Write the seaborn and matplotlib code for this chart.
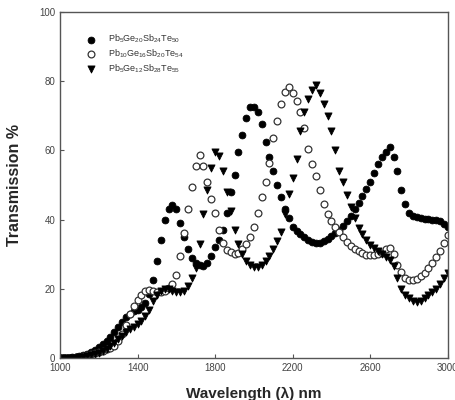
import numpy as np
import pandas as pd
import matplotlib
matplotlib.use('Agg')
import matplotlib.pyplot as plt
import seaborn as sns

# Wavelength grid (nm)
wavelength = [1000, 1020, 1040, 1060, 1080, 1100, 1120, 1140, 1160, 1180,
              1200, 1220, 1240, 1260, 1280, 1300, 1320, 1340, 1360, 1380,
              1400, 1420, 1440, 1460, 1480, 1500, 1520, 1540, 1560, 1580,
              1600, 1620, 1640, 1660, 1680, 1700, 1720, 1740, 1760, 1780,
              1800, 1820, 1840, 1860, 1880, 1900, 1920, 1940, 1960, 1980,
              2000, 2020, 2040, 2060, 2080, 2100, 2120, 2140, 2160, 2180,
              2200, 2220, 2240, 2260, 2280, 2300, 2320, 2340, 2360, 2380,
              2400, 2420, 2440, 2460, 2480, 2500, 2520, 2540, 2560, 2580,
              2600, 2620, 2640, 2660, 2680, 2700, 2720, 2740, 2760, 2780,
              2800, 2820, 2840, 2860, 2880, 2900, 2920, 2940, 2960, 2980,
              3000]

# Transmission % of each film
trans_a = [0, 0, 0.1, 0.2, 0.4, 0.6, 0.9, 1.3, 1.8, 2.4,
           3.1, 4.0, 5.0, 6.2, 7.5, 9.0, 10.5, 11.8, 12.8, 13.5,
           14.0, 14.8, 16.0, 18.5, 22.5, 28.0, 34.0, 40.0, 43.0, 44.2,
           43.0, 39.0, 35.0, 31.5, 29.0, 27.5, 26.8, 26.5, 27.5, 29.5,
           32.0, 34.0, 37.0, 42.0, 48.0, 53.0, 59.5, 64.5, 69.5, 72.5,
           72.5, 71.0, 67.5, 62.5, 58.0, 54.0, 50.0, 46.5, 43.0, 40.5,
           38.0, 36.8, 35.8, 35.0, 34.2, 33.5, 33.2, 33.3, 33.8, 34.5,
           35.2, 36.0, 37.0, 38.2, 39.5, 41.0, 43.0, 44.8, 46.8, 48.8,
           51.0, 53.5, 56.0, 58.0, 59.6, 61.0, 58.0, 54.0, 48.5, 44.5,
           42.0, 41.0, 40.7, 40.5, 40.3, 40.2, 40.0, 39.8, 39.5, 38.8,
           37.8]

trans_b = [0, 0, 0, 0.1, 0.2, 0.3, 0.5, 0.8, 1.1, 1.5,
           1.8, 2.1, 2.5, 2.9, 3.6, 5.0, 7.0, 9.5, 12.8, 15.0,
           16.8, 18.2, 19.3, 19.6, 19.3, 19.0, 19.0, 19.4, 20.2, 21.5,
           24.0, 29.5, 36.0, 43.0, 49.5, 55.5, 58.7, 55.5, 51.0, 46.0,
           42.0, 37.0, 33.2, 31.3, 30.5, 30.0, 30.3, 31.5, 33.0, 35.0,
           38.0, 42.0, 46.5, 51.0, 56.5, 63.5, 68.5, 73.5, 77.0, 78.3,
           76.5, 74.2, 71.0, 66.5, 60.5, 56.0, 52.5, 48.6, 44.5, 41.5,
           39.5, 38.0, 36.5, 35.0, 33.5, 32.5, 31.6, 30.8, 30.3, 29.9,
           29.8, 29.9, 30.1, 30.4, 31.4, 31.8, 30.0, 27.0, 24.8, 23.2,
           22.5, 22.4, 22.8, 23.6, 24.6, 26.0, 27.5, 29.2, 31.0, 33.2,
           35.5]

trans_c = [0, 0, 0, 0.1, 0.1, 0.2, 0.3, 0.5, 0.8, 1.1,
           1.5, 2.0, 2.6, 3.4, 4.3, 5.5, 6.5, 7.5, 8.3, 9.0,
           9.8, 10.8, 12.2, 14.0, 16.5, 18.2, 19.3, 19.8, 19.8, 19.4,
           19.0, 19.0, 19.5, 20.8, 23.0, 26.0, 33.0, 41.5, 48.5, 55.0,
           59.5, 58.5, 54.0, 48.0, 42.5, 37.0, 33.0, 30.0, 28.0, 26.8,
           26.2, 26.2, 27.0, 28.0, 29.5, 31.5, 33.8, 36.5, 41.5, 47.5,
           52.0, 57.5, 65.5, 71.0, 74.8, 77.5, 79.0, 76.5, 73.5, 70.0,
           65.5, 60.0, 54.0, 50.8, 47.0, 43.5, 40.5, 37.5, 35.7, 34.0,
           32.8, 31.8, 31.0, 30.2, 29.2, 28.2, 26.5, 23.0, 19.8, 18.2,
           17.2, 16.6, 16.2, 16.5, 17.2, 18.2, 19.0, 20.0, 21.5, 23.0,
           24.6]

labels = ['Pb$_5$Ge$_{20}$Sb$_{24}$Te$_{50}$',
          'Pb$_{10}$Ge$_{16}$Sb$_{20}$Te$_{54}$',
          'Pb$_5$Ge$_{12}$Sb$_{28}$Te$_{55}$']

df = pd.DataFrame({'Wavelength': wavelength, 'A': trans_a, 'B': trans_b, 'C': trans_c})

sns.set_style('ticks')
plt.rcParams['font.family'] = ['Liberation Sans', 'DejaVu Sans']
plt.rcParams['mathtext.fontset'] = 'custom'
plt.rcParams['mathtext.rm'] = 'Liberation Sans'
plt.rcParams['mathtext.it'] = 'Liberation Sans'

fig = plt.figure(figsize=(4.56, 4.0), dpi=100)
ax = fig.add_axes([0.1316, 0.105, 0.8504, 0.865])

sns.scatterplot(data=df, x='Wavelength', y='A', ax=ax, marker='o', s=24,
                color='black', edgecolor='black', linewidth=0.6, label=labels[0])
sns.scatterplot(data=df, x='Wavelength', y='B', ax=ax, marker='o', s=24,
                facecolor='white', edgecolor='#333333', linewidth=0.9, label=labels[1])
sns.scatterplot(data=df, x='Wavelength', y='C', ax=ax, marker='v', s=26,
                color='black', edgecolor='black', linewidth=0.6, label=labels[2])

ax.set_xlim(1000, 3000)
ax.set_ylim(0, 100)
ax.set_xticks([1000, 1400, 1800, 2200, 2600, 3000])
ax.set_yticks([0, 20, 40, 60, 80, 100])
ax.tick_params(direction='in', length=3, width=0.8, labelsize=7,
               colors='#555555', labelcolor='#444444')
for sp in ax.spines.values():
    sp.set_color('#555555')
    sp.set_linewidth(1.0)

ax.set_xlabel('Wavelength (λ) nm', fontsize=11, fontweight='bold', labelpad=10)
ax.set_ylabel('Transmission %', fontsize=11.5, fontweight='bold', labelpad=12)

leg = ax.legend(loc='upper left', bbox_to_anchor=(0.06, 0.95), frameon=False,
                fontsize=6.5, handletextpad=1.3, labelspacing=0.25,
                borderaxespad=0.0, handlelength=1.0)
for t in leg.get_texts():
    t.set_color('#333333')

fig.savefig('out.png', dpi=100)
